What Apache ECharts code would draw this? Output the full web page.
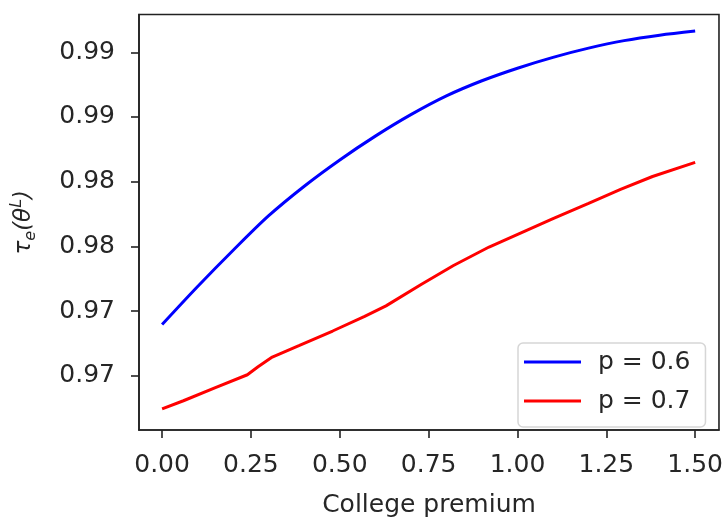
<!DOCTYPE html>
<html>
<head>
<meta charset="utf-8">
<script src="https://cdn.jsdelivr.net/npm/echarts@6/dist/echarts.min.js"></script>
<style>
html,body{margin:0;padding:0;background:#fff;}
#chart{width:726px;height:523px;}
</style>
</head>
<body>
<div id="chart"></div>
<script>
const seriesNames = ['p = 0.6', 'p = 0.7'];
const xBlue = [0.0, 0.1, 0.2, 0.3, 0.4, 0.5, 0.6, 0.7, 0.8, 0.9, 1.0, 1.1, 1.2, 1.3, 1.4, 1.5];
const yBlue = [0.97396, 0.97690, 0.97970, 0.98237, 0.98465, 0.98668, 0.98852, 0.99018, 0.99163, 0.99280, 0.99377, 0.99461, 0.99532, 0.99590, 0.99632, 0.99664];
const xRed = [0.00, 0.06, 0.15, 0.24, 0.27, 0.31, 0.385, 0.48, 0.57, 0.63, 0.73, 0.82, 0.92, 1.01, 1.10, 1.20, 1.29, 1.38, 1.50];
const yRed = [0.96744, 0.96807, 0.96908, 0.97008, 0.97070, 0.97145, 0.97233, 0.97346, 0.97459, 0.97540, 0.97707, 0.97852, 0.97995, 0.98105, 0.98215, 0.98333, 0.98440, 0.98540, 0.98649];
const xTickValues = [0, 0.25, 0.5, 0.75, 1.0, 1.25, 1.5];
const xTickLabels = ['0.00', '0.25', '0.50', '0.75', '1.00', '1.25', '1.50'];
const yTickValues = [0.970, 0.975, 0.980, 0.985, 0.990, 0.995];
const yTickLabels = ['0.97', '0.97', '0.98', '0.98', '0.99', '0.99'];

const FONT = 'DejaVu Sans';
const TXT = '#262626';
const AX = '#222';

function pairs(xs, ys) { return xs.map((x, i) => [x, ys[i]]); }
function lookup(vals, labels, v) {
  for (let i = 0; i < vals.length; i++) if (Math.abs(vals[i] - v) < 1e-9) return labels[i];
  return '';
}

const chart = echarts.init(document.getElementById('chart'), null, {renderer: 'canvas'});
chart.setOption({
  animation: false,
  backgroundColor: '#fff',
  textStyle: {fontFamily: FONT},
  grid: {left: 139, right: 4, top: 14.5, bottom: 81.3, show: true, borderColor: AX, borderWidth: 1.6, backgroundColor: 'transparent'},
  xAxis: {
    type: 'value', min: -0.065, max: 1.567,
    splitLine: {show: false},
    axisLine: {show: true, onZero: false, lineStyle: {color: AX, width: 1.6}},
    axisTick: {show: true, customValues: xTickValues, length: 8, lineStyle: {color: AX, width: 1.6}},
    axisLabel: {customValues: xTickValues, formatter: v => lookup(xTickValues, xTickLabels, v), color: TXT, fontSize: 25, fontFamily: FONT, margin: 23},
    name: 'College premium', nameLocation: 'middle', nameGap: 63,
    nameTextStyle: {color: TXT, fontSize: 25, fontFamily: FONT}
  },
  yAxis: {
    type: 'value', min: 0.96581, max: 0.99792,
    splitLine: {show: false},
    axisLine: {show: true, onZero: false, lineStyle: {color: AX, width: 1.6}},
    axisTick: {show: true, customValues: yTickValues, length: 8, lineStyle: {color: AX, width: 1.6}},
    axisLabel: {customValues: yTickValues, formatter: v => lookup(yTickValues, yTickLabels, v), color: TXT, fontSize: 25, fontFamily: FONT, margin: 24},
    name: '{t|τ}{s|e}{t|(θ}{u|L}{t|)}', nameLocation: 'middle', nameGap: 100, nameRotate: 90,
    nameTextStyle: {
      color: TXT, fontFamily: FONT, fontSize: 23,
      rich: {
        t: {fontSize: 23, fontStyle: 'italic', fontFamily: FONT, color: TXT, lineHeight: 30},
        s: {fontSize: 16, fontStyle: 'italic', fontFamily: FONT, color: TXT, verticalAlign: 'bottom', lineHeight: 30, padding: [8, 0, 0, 0]},
        u: {fontSize: 16, fontStyle: 'italic', fontFamily: FONT, color: TXT, verticalAlign: 'top', lineHeight: 30, padding: [0, 0, 8, 0]}
      }
    }
  },
  legend: {
    data: seriesNames,
    orient: 'vertical',
    left: 518, top: 343,
    padding: [5, 15, 12, 6],
    itemGap: 11,
    itemWidth: 57, itemHeight: 3,
    icon: 'rect',
    backgroundColor: '#fff',
    borderColor: '#d6d6d6', borderWidth: 1.5, borderRadius: 5,
    textStyle: {color: TXT, fontSize: 25, fontFamily: FONT, lineHeight: 28, padding: [0, 0, 0, 12]}
  },
  series: [
    {name: seriesNames[0], type: 'line', data: pairs(xBlue, yBlue), showSymbol: false, smooth: 0.3,
     lineStyle: {color: '#0000ff', width: 3}, itemStyle: {color: '#0000ff'}},
    {name: seriesNames[1], type: 'line', data: pairs(xRed, yRed), showSymbol: false,
     lineStyle: {color: '#ff0000', width: 3}, itemStyle: {color: '#ff0000'}}
  ]
});
</script>
</body>
</html>
